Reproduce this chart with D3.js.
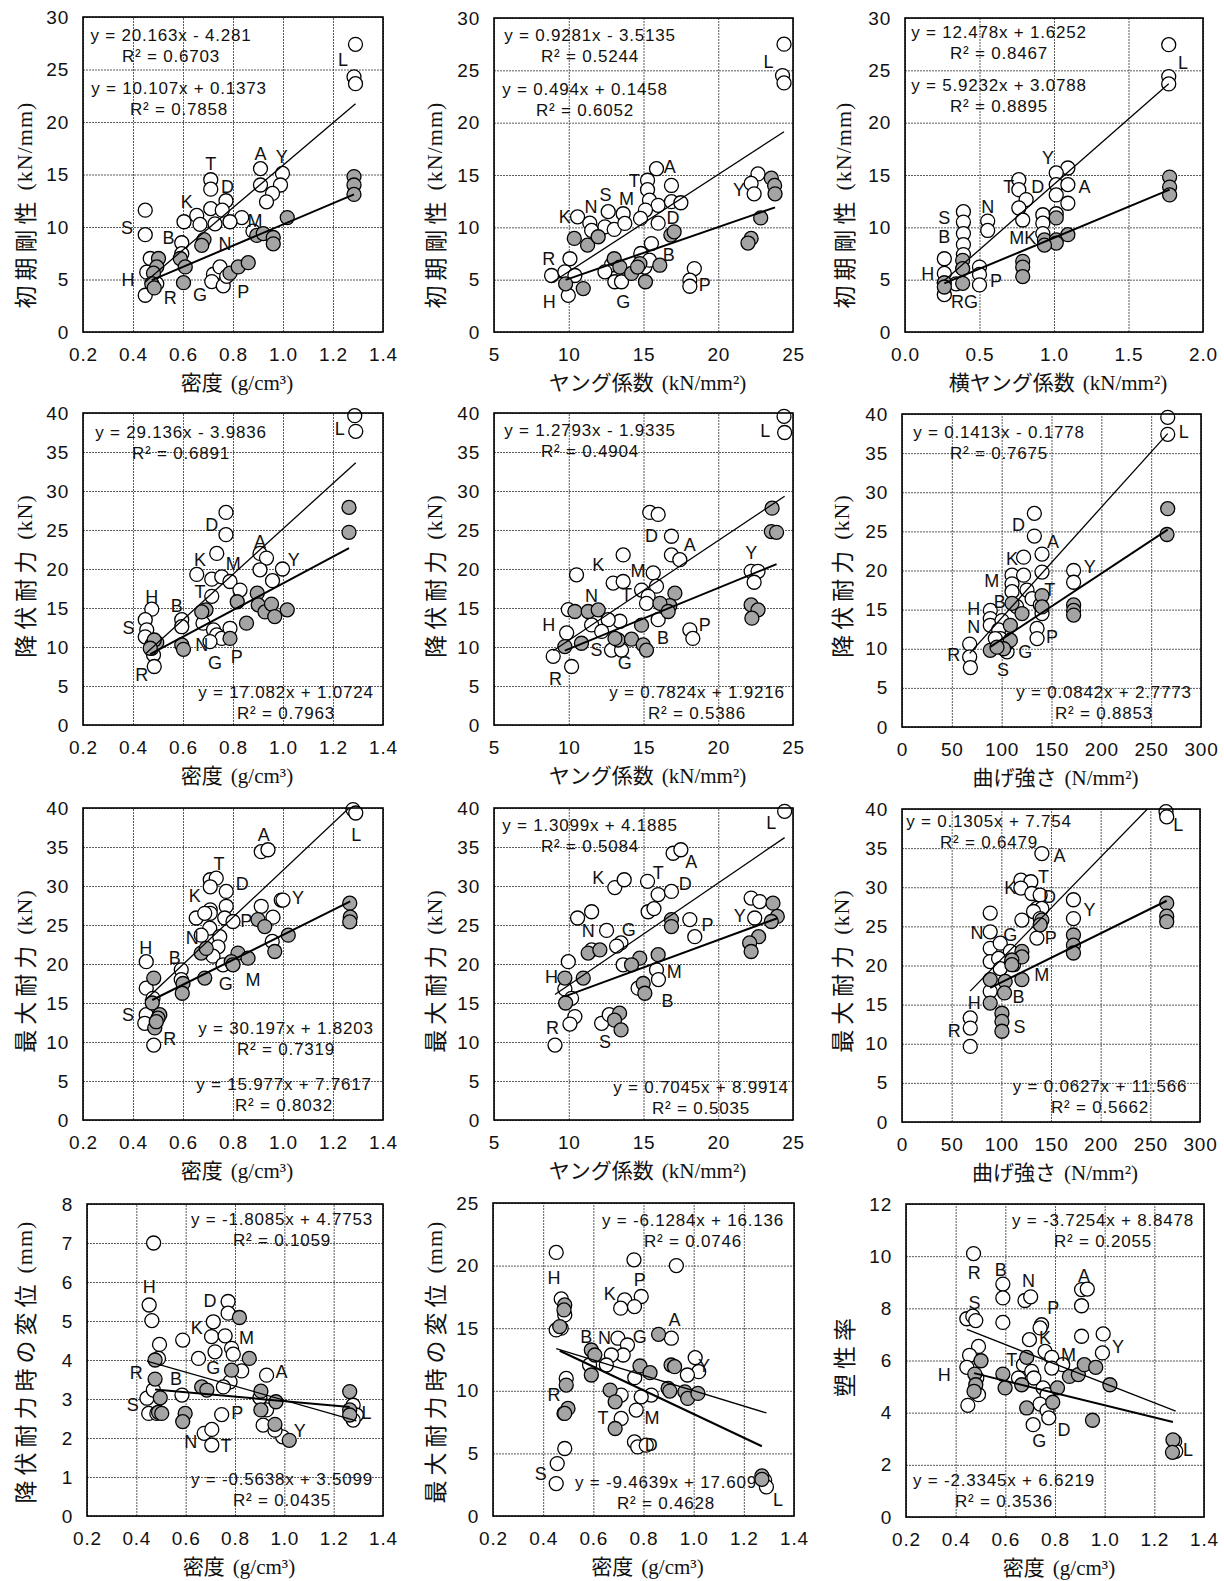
<!DOCTYPE html>
<html><head><meta charset="utf-8">
<script src="https://cdn.jsdelivr.net/npm/d3@7"></script>
<style>body{margin:0;background:#fff}</style>
</head><body><svg id="c" width="1224" height="1581" xmlns="http://www.w3.org/2000/svg"></svg>
<script>
// ---------------- tick values ----------------
const densityTicks = [0.2,0.4,0.6,0.8,1.0,1.2,1.4];
const youngTicks = [5,10,15,20,25];
const transTicks = [0.0,0.5,1.0,1.5,2.0];
const bendTicks = [0,50,100,150,200,250,300];
const y30Ticks = [0,5,10,15,20,25,30];
const y40Ticks = [0,5,10,15,20,25,30,35,40];
const y8Ticks = [0,1,2,3,4,5,6,7,8];
const y25Ticks = [0,5,10,15,20,25];
const y12Ticks = [0,2,4,6,8,10,12];

// ---------------- axis titles ----------------
const xTitleDensity = ["密度","(g/cm³)"];
const xTitleYoung = ["ヤング係数","(kN/mm²)"];
const xTitleTrans = ["横ヤング係数","(kN/mm²)"];
const xTitleBend = ["曲げ強さ","(N/mm²)"];
const yTitleStiff = ["初期剛性","(kN/mm)"];
const yTitleYield = ["降伏耐力","(kN)"];
const yTitleMax = ["最大耐力","(kN)"];
const yTitleYieldDisp = ["降伏耐力時の変位","(mm)"];
const yTitleMaxDisp = ["最大耐力時の変位","(mm)"];
const yTitleDuct = ["塑性率",""];

// ---------------- panel 1 ----------------
const p1White = [[1.29,27.4],[1.284,24.3],[1.29,23.65],[0.91,15.56],[0.91,14.0],[0.998,15.1],[0.99,14.0],[0.958,13.2],[0.934,12.4],[0.711,14.5],[0.711,13.6],[0.772,12.5],[0.711,11.75],[0.757,11.6],[0.655,11.1],[0.835,10.9],[0.788,10.5],[0.728,10.3],[0.604,10.5],[0.668,10.25],[0.449,11.6],[0.449,9.27],[0.595,8.5],[0.595,7.46],[0.469,7.0],[0.455,5.7],[0.449,3.5],[0.495,4.6],[0.722,5.5],[0.748,6.2],[0.715,4.8],[0.761,4.4],[0.775,5.3],[0.88,9.6]];
const p1Gray = [[1.284,14.8],[1.284,14.0],[1.284,13.1],[1.017,10.9],[0.895,9.2],[0.921,9.37],[0.961,9.0],[0.961,8.4],[0.684,8.8],[0.675,8.25],[0.589,7.0],[0.609,6.2],[0.602,4.7],[0.502,7.0],[0.495,6.2],[0.482,5.6],[0.475,4.6],[0.485,4.2],[0.788,5.6],[0.821,6.2],[0.861,6.6]];
const p1Labels = [["L",1.24,25.9],["A",0.91,17.0],["Y",0.995,16.7],["T",0.711,16.0],["D",0.778,13.8],["K",0.615,12.4],["S",0.376,9.9],["M",0.888,10.6],["B",0.542,9.0],["N",0.768,8.4],["H",0.38,5.0],["R",0.549,3.2],["G",0.668,3.5],["P",0.841,3.8]];
const p1Eq = [["y = 20.163x - 4.281","R² = 0.6703"],["y = 10.107x + 0.1373","R² = 0.7858"]];
const p1Fit = [[20.163,-4.281],[10.107,0.1373]];

// ---------------- panel 2 ----------------
const p2White = [[24.4,27.5],[24.3,24.5],[24.4,23.8],[22.66,15.1],[22.2,14.2],[22.4,13.2],[15.87,15.6],[15.27,14.5],[15.27,13.6],[16.87,14.0],[15.4,12.6],[15.98,12.1],[16.87,12.45],[17.5,12.35],[15.13,11.65],[14.8,10.85],[15.98,10.4],[12.64,11.5],[13.64,11.3],[10.59,11.0],[11.41,10.4],[11.53,9.7],[12.42,10.05],[13.04,9.8],[13.75,10.37],[15.53,8.45],[14.82,7.5],[10.08,7.0],[8.85,5.4],[9.74,5.75],[10.41,5.4],[9.97,3.5],[12.86,6.4],[12.42,5.75],[13.08,4.8],[13.53,4.8],[15.09,6.2],[18.4,6.06],[18.1,4.95],[18.1,4.37],[15.4,6.86]];
const p2Gray = [[23.55,14.7],[23.77,14.0],[23.8,13.2],[22.84,10.9],[22.2,8.94],[21.99,8.5],[16.83,9.26],[17.05,9.57],[10.37,8.94],[11.26,8.3],[11.97,9.1],[13.04,7.0],[13.42,6.2],[14.2,5.6],[14.76,6.54],[15.13,4.8],[16.09,6.38],[9.79,4.6],[10.97,4.15],[14.6,6.2]];
const p2Labels = [["L",23.37,25.8],["A",16.76,15.8],["T",14.38,14.4],["S",12.46,13.1],["M",13.86,12.7],["N",11.48,11.9],["K",9.74,11.0],["D",16.98,10.85],["Y",21.39,13.56],["B",16.69,7.34],["R",8.67,7.0],["H",8.7,2.87],["G",13.64,2.87],["P",19.1,4.47]];
const p2Eq = [["y = 0.9281x - 3.5135","R² = 0.5244"],["y = 0.494x + 0.1458","R² = 0.6052"]];
const p2Fit = [[0.9281,-3.5135],[0.494,0.1458]];

// ---------------- panel 3 ----------------
const p3White = [[1.77,27.45],[1.77,24.4],[1.77,23.7],[1.093,15.67],[1.015,15.2],[1.015,14.08],[1.093,14.08],[1.015,13.1],[1.093,12.3],[0.764,14.55],[0.764,13.6],[0.813,12.65],[0.764,11.85],[0.79,10.7],[0.925,11.2],[0.925,10.4],[0.925,9.4],[1.015,11.3],[0.555,10.6],[0.555,9.7],[0.392,11.5],[0.392,10.5],[0.392,9.4],[0.392,8.35],[0.392,7.4],[0.264,7.0],[0.264,5.6],[0.264,4.7],[0.264,3.57],[0.5,6.2],[0.5,5.5],[0.5,4.5],[0.343,4.6]];
const p3Gray = [[1.776,14.8],[1.776,13.85],[1.776,13.1],[1.015,10.9],[0.936,8.8],[1.015,8.8],[1.093,9.3],[1.015,8.5],[0.936,8.3],[0.79,6.75],[0.79,6.2],[0.79,5.3],[0.387,6.85],[0.387,6.05],[0.387,4.65],[0.264,4.7],[0.264,4.3]];
const p3Labels = [["L",1.866,25.7],["Y",0.959,16.6],["T",0.697,13.85],["D",0.891,13.85],["A",1.205,13.85],["N",0.555,11.9],["S",0.264,10.9],["B",0.264,9.08],["MK",0.79,9.0],["H",0.152,5.57],["P",0.611,4.84],["RG",0.4,2.9]];
const p3Eq = [["y = 12.478x + 1.6252","R² = 0.8467"],["y = 5.9232x + 3.0788","R² = 0.8895"]];
const p3Fit = [[12.478,1.6252],[5.9232,3.0788]];

// ---------------- panel 4 ----------------
const p4White = [[1.287,39.66],[1.291,37.65],[0.772,27.25],[0.772,24.4],[0.735,22.0],[0.655,19.3],[0.715,18.7],[0.755,19.0],[0.788,18.4],[0.828,17.3],[0.715,16.5],[0.908,22.0],[0.934,21.4],[0.908,19.9],[0.958,18.5],[0.998,20.0],[0.475,14.85],[0.449,13.5],[0.455,12.2],[0.449,11.3],[0.595,13.5],[0.595,12.6],[0.68,13.05],[0.722,12.2],[0.735,11.55],[0.755,11.1],[0.788,12.4],[0.482,9.0],[0.485,7.5],[0.475,9.84],[0.708,10.7]];
const p4Gray = [[1.264,27.9],[1.264,24.7],[0.897,16.9],[0.901,15.4],[0.928,14.5],[0.954,15.5],[0.967,13.9],[1.017,14.76],[0.854,13.05],[0.817,15.8],[0.692,14.76],[0.675,14.5],[0.595,10.27],[0.602,9.7],[0.788,11.1],[0.475,10.27],[0.495,10.57],[0.485,10.9],[0.469,9.84]];
const p4Labels = [["L",1.227,37.9],["D",0.715,25.7],["A",0.908,23.5],["K",0.668,21.2],["M",0.801,20.7],["Y",1.043,21.2],["T",0.668,17.1],["H",0.475,16.4],["B",0.575,15.3],["S",0.382,12.5],["N",0.675,10.27],["R",0.435,6.4],["G",0.728,7.9],["P",0.815,8.77]];
const p4Eq = [["y = 29.136x - 3.9836","R² = 0.6891"],["y = 17.082x + 1.0724","R² = 0.7963"]];
const p4Fit = [[29.136,-3.9836],[17.082,1.0724]];

// ---------------- panel 5 ----------------
const p5White = [[24.4,39.57],[24.44,37.5],[15.42,27.25],[15.98,27.0],[16.87,24.2],[16.87,21.8],[17.43,21.2],[13.64,21.8],[10.52,19.25],[12.97,18.2],[13.64,18.4],[15.65,19.5],[15.87,17.8],[14.87,17.3],[15.31,16.5],[15.2,15.6],[15.98,13.5],[13.42,13.3],[12.64,13.5],[11.53,12.83],[12.2,12.0],[9.97,14.8],[9.86,11.8],[8.96,8.8],[10.19,7.5],[12.86,9.6],[13.53,9.6],[22.2,19.7],[22.66,19.7],[22.4,18.3],[18.1,12.2],[18.3,11.1]];
const p5Gray = [[23.6,27.8],[23.55,24.8],[23.9,24.7],[22.2,15.4],[22.66,14.76],[22.25,13.7],[17.1,16.9],[16.76,15.3],[16.1,15.6],[16.65,14.55],[10.41,14.55],[11.3,14.55],[11.97,14.76],[9.74,10.05],[10.85,10.48],[13.3,10.9],[14.2,11.0],[14.87,12.8],[14.98,10.27],[15.2,9.6],[13.09,11.1]];
const p5Labels = [["L",23.15,37.65],["D",15.53,24.2],["A",18.1,23.1],["Y",22.2,22.0],["K",11.97,20.5],["M",14.64,19.7],["N",11.53,16.5],["T",13.86,16.7],["H",8.67,12.8],["P",19.1,12.8],["B",16.3,11.1],["S",11.86,9.6],["G",13.75,7.9],["R",9.12,5.86]];
const p5Eq = [["y = 1.2793x - 1.9335","R² = 0.4904"],["y = 0.7824x + 1.9216","R² = 0.5386"]];
const p5Fit = [[1.2793,-1.9335],[0.7824,1.9216]];

// ---------------- panel 6 ----------------
const p6White = [[266.6,39.57],[266.6,37.4],[132.8,27.3],[132.8,24.4],[122,21.7],[140.5,22.1],[140.5,19.8],[172.2,20.0],[172.2,18.5],[110.4,19.4],[122,19.4],[110.4,18.3],[110.4,17.3],[125.4,17.5],[130.5,16.4],[138.8,15.6],[140.5,14.5],[88.6,14.9],[88.6,13.86],[88.6,13.0],[100.3,13.6],[97,12.4],[98.7,11.3],[135.5,12.6],[135.5,11.3],[67.9,10.6],[67.9,8.96],[68.6,7.6],[105.4,9.6],[93.6,11.3],[115,15.4]];
const p6Gray = [[266.6,27.9],[265.9,24.6],[172.2,15.6],[172.2,14.9],[172.2,14.3],[140.5,16.8],[140.5,15.35],[120.4,14.5],[110.4,15.8],[108.7,13.0],[88.6,9.8],[103.7,10.45],[108.7,11.1],[102,10.0],[95.3,10.2]];
const p6Labels = [["L",282.6,37.7],["D",117,25.8],["A",151.5,23.7],["K",110.4,21.5],["Y",188.3,20.5],["M",90,18.6],["T",148.2,17.5],["B",98,16.0],["H",71.9,15.1],["N",71.9,12.8],["P",150.5,11.5],["R",51.8,9.17],["G",123.7,9.6],["S",101.3,7.25]];
const p6Eq = [["y = 0.1413x - 0.1778","R² = 0.7675"],["y = 0.0842x + 2.7773","R² = 0.8853"]];
const p6Fit = [[0.1413,-0.1778],[0.0842,2.7773]];

// ---------------- panel 7 ----------------
const p7White = [[1.28,39.8],[1.291,39.36],[0.913,34.4],[0.94,34.65],[0.709,30.8],[0.733,31.0],[0.709,29.9],[0.773,29.3],[0.773,27.4],[0.709,26.95],[0.709,26.5],[0.653,25.9],[0.687,26.5],[0.767,25.9],[0.8,25.45],[0.707,24.6],[0.747,23.5],[0.74,22.2],[0.72,21.0],[0.76,19.9],[0.913,27.4],[0.96,26.0],[0.993,28.2],[1.0,28.2],[0.957,22.9],[0.453,20.3],[0.453,16.9],[0.593,19.25],[0.593,18.0],[0.453,13.5],[0.447,12.4],[0.483,9.6],[0.48,15.6],[0.673,23.7]];
const p7Gray = [[1.267,27.8],[1.269,26.0],[1.267,25.4],[0.9,25.7],[0.927,24.8],[1.021,23.7],[0.967,21.6],[0.82,21.4],[0.793,20.3],[0.86,20.75],[0.8,19.9],[0.673,21.4],[0.693,22.0],[0.687,18.2],[0.6,17.5],[0.597,16.25],[0.483,18.2],[0.477,15.0],[0.507,13.5],[0.5,13.05],[0.487,11.8],[0.493,12.6]];
const p7Labels = [["L",1.293,36.6],["A",0.923,36.6],["T",0.744,32.8],["D",0.837,30.25],["K",0.647,28.7],["Y",1.06,28.4],["P",0.853,25.5],["N",0.637,23.3],["H",0.451,22.0],["B",0.567,20.8],["G",0.771,17.5],["M",0.88,18.0],["S",0.38,13.5],["R",0.547,10.4]];
const p7Eq = [["y = 30.197x + 1.8203","R² = 0.7319"],["y = 15.977x + 7.7617","R² = 0.8032"]];
const p7Fit = [[30.197,1.8203],[15.977,7.7617]];

// ---------------- panel 8 ----------------
const p8White = [[24.44,39.57],[16.98,34.2],[17.5,34.65],[13.08,29.8],[13.71,30.8],[15.27,30.6],[15.98,28.9],[16.87,29.3],[15.31,26.7],[15.7,27.1],[18.1,25.7],[18.43,23.5],[11.53,26.7],[10.59,25.9],[12.53,24.3],[13.49,22.7],[13.2,22.3],[11.53,21.8],[13.64,19.9],[9.97,20.3],[9.74,16.8],[10.19,15.6],[10.41,13.26],[10.08,12.3],[12.2,12.4],[12.71,13.5],[9.08,9.6],[15.87,19.25],[16.0,18.0],[14.64,16.9],[22.2,28.45],[22.77,28.0],[22.44,25.9]];
const p8Gray = [[23.66,27.8],[23.95,26.1],[23.55,25.45],[22.7,23.5],[22.1,22.7],[22.2,21.6],[16.87,25.7],[16.87,24.8],[15.98,21.2],[14.75,20.75],[14.2,19.9],[14.98,17.5],[15.09,16.25],[11.3,21.4],[12.08,21.8],[9.74,18.2],[10.97,18.2],[9.79,15.0],[13.4,13.7],[13.06,12.8],[13.5,11.55]];
const p8Labels = [["L",23.55,38.1],["A",18.2,33.1],["T",15.98,31.7],["K",11.97,31.0],["D",17.8,30.2],["Y",21.44,26.1],["P",19.28,25.0],["N",11.3,24.2],["G",14.02,24.4],["M",17.05,19.0],["H",8.85,18.3],["B",16.6,15.3],["R",8.92,11.8],["S",12.42,10.05]];
const p8Eq = [["y = 1.3099x + 4.1885","R² = 0.5084"],["y = 0.7045x + 8.9914","R² = 0.5035"]];
const p8Fit = [[1.3099,4.1885],[0.7045,8.9914]];

// ---------------- panel 9 ----------------
const p9White = [[265.8,39.66],[266.5,39.0],[140.8,34.3],[119.7,30.9],[129.7,30.7],[119.7,29.9],[130.7,29.2],[139.1,29.0],[135.8,27.3],[140.8,27.3],[132.4,26.9],[120.7,25.8],[139.1,26.0],[135.8,23.5],[172.6,28.4],[172.6,26.0],[88.8,26.7],[88.8,24.3],[88.8,22.2],[88.8,20.5],[98.9,22.85],[109,21.8],[97.2,20.9],[112.3,20.1],[88.8,16.7],[68.7,13.3],[68.7,12.0],[68.7,9.66],[98.9,19.6]];
const p9Gray = [[266.5,27.96],[266.5,26.3],[266.5,25.6],[172.6,23.9],[172.6,22.6],[172.6,21.6],[140.8,25.8],[139.1,25.2],[120.7,21.8],[120.7,21.1],[110.6,20.7],[110.6,20.1],[120.7,18.2],[88.8,18.2],[103.9,17.96],[103.2,16.5],[88.8,15.2],[100.6,13.9],[100.6,12.85],[100.6,11.6]];
const p9Labels = [["L",278.2,37.96],["A",158.6,34.0],["T",142.5,31.3],["K",109,29.9],["D",148.5,28.8],["Y",188.7,27.1],["N",75.4,24.1],["G",109,23.9],["P",149.8,23.5],["M",140.8,18.8],["B",117.3,16.0],["H",72.7,15.2],["S",118.3,12.2],["R",52.6,11.66]];
const p9Eq = [["y = 0.1305x + 7.754","R² = 0.6479"],["y = 0.0627x + 11.566","R² = 0.5662"]];
const p9Fit = [[0.1305,7.754],[0.0627,11.566]];

// ---------------- panel 10 ----------------
const p10White = [[0.47,7.0],[0.452,5.41],[0.463,5.01],[0.494,4.4],[0.49,4.04],[0.588,4.51],[0.652,4.04],[0.712,4.98],[0.772,5.5],[0.772,5.2],[0.705,4.6],[0.76,4.62],[0.719,4.21],[0.786,4.3],[0.793,4.15],[0.827,3.72],[0.78,3.44],[0.928,3.61],[0.753,3.31],[0.901,3.03],[0.928,2.72],[0.914,2.33],[0.993,2.03],[0.962,2.2],[0.746,2.6],[0.675,2.12],[0.706,2.22],[0.706,1.82],[0.585,3.1],[0.443,3.02],[0.45,2.63],[0.483,2.63],[0.469,3.23],[1.279,2.84],[1.292,2.59],[1.279,2.46]];
const p10Gray = [[0.818,5.09],[0.858,4.04],[0.786,3.74],[0.905,3.2],[0.966,2.93],[0.905,2.72],[0.962,2.35],[1.02,1.94],[0.665,3.31],[0.686,3.23],[0.476,4.0],[0.476,3.51],[0.497,3.03],[0.49,2.66],[0.503,2.63],[0.598,2.63],[0.588,2.42],[1.265,3.19],[1.265,2.72],[1.265,2.59]];
const p10Labels = [["H",0.452,5.87],["D",0.699,5.52],["K",0.645,4.81],["M",0.847,4.56],["G",0.712,3.79],["A",0.989,3.68],["R",0.4,3.67],["B",0.561,3.51],["S",0.386,2.84],["P",0.809,2.63],["L",1.333,2.63],["Y",1.063,2.18],["N",0.621,1.9],["T",0.764,1.8]];
const p10Eq = [["y = -1.8085x + 4.7753","R² = 0.1059"],["y = -0.5638x + 3.5099","R² = 0.0435"]];
const p10Fit = [[-1.8085,4.7753],[-0.5638,3.5099]];

// ---------------- panel 11 ----------------
const p11White = [[0.452,21.05],[0.762,20.46],[0.931,20.0],[0.791,17.53],[0.725,17.26],[0.709,16.6],[0.764,16.73],[0.472,17.34],[0.486,16.06],[0.472,15.0],[0.452,14.86],[0.911,14.2],[0.698,14.2],[0.736,13.66],[0.719,12.86],[0.672,12.86],[0.652,12.06],[0.585,12.06],[1.006,12.65],[1.02,11.53],[0.975,11.26],[0.765,11.05],[0.831,9.66],[0.791,9.52],[0.711,9.66],[0.771,8.46],[0.711,7.79],[0.764,5.92],[0.777,5.52],[0.811,5.66],[0.492,10.99],[0.486,5.39],[0.456,4.19],[0.452,2.59],[1.283,2.85],[1.29,2.32],[0.483,8.19]];
const p11Gray = [[0.486,16.86],[0.483,16.46],[0.466,15.13],[0.86,14.51],[0.492,10.46],[0.499,8.59],[0.486,8.19],[0.592,13.26],[0.606,12.86],[0.592,11.26],[0.786,11.98],[0.826,11.45],[0.91,12.06],[0.924,11.93],[0.898,10.19],[0.905,9.98],[0.965,9.92],[0.976,9.39],[1.017,9.79],[0.667,10.06],[0.687,9.12],[0.687,6.99],[1.272,3.2],[1.272,2.93]];
const p11Labels = [["H",0.443,19.0],["P",0.785,18.86],["K",0.665,17.7],["A",0.924,15.66],["B",0.572,14.27],["N",0.645,14.2],["G",0.785,14.27],["Y",1.041,12.0],["R",0.443,9.66],["T",0.639,7.84],["M",0.834,7.84],["D",0.831,5.66],["S",0.39,3.34],["L",1.336,1.25]];
const p11Eq = [["y = -6.1284x + 16.136","R² = 0.0746"],["y = -9.4639x + 17.609","R² = 0.4628"]];
const p11Fit = [[-6.1284,16.136],[-9.4639,17.609]];

// ---------------- panel 12 ----------------
const p12White = [[0.472,10.1],[0.59,8.93],[0.59,8.4],[0.59,7.46],[0.679,8.3],[0.702,8.44],[0.907,8.72],[0.93,8.74],[0.907,8.1],[0.445,7.6],[0.469,7.7],[0.481,7.53],[0.746,7.37],[0.74,7.25],[0.697,6.8],[0.76,6.35],[0.787,6.12],[0.907,6.93],[0.994,7.02],[0.991,6.29],[0.492,6.54],[0.456,6.2],[0.445,5.74],[0.485,5.33],[0.492,4.69],[0.449,4.28],[0.673,5.84],[0.706,5.58],[0.715,5.33],[0.752,4.95],[0.768,4.69],[0.74,4.33],[0.768,4.08],[0.775,3.8],[0.712,3.54],[0.831,5.84],[0.787,5.71],[0.653,5.33],[1.282,2.9],[1.286,2.52]];
const p12Gray = [[0.502,5.99],[0.477,5.48],[0.481,5.07],[0.474,4.82],[0.59,5.48],[0.599,4.95],[0.686,6.12],[0.666,5.07],[0.686,4.18],[0.791,4.4],[0.81,4.95],[0.858,5.39],[0.894,5.46],[0.918,5.84],[0.964,5.74],[1.021,5.07],[0.951,3.71],[1.275,2.96],[1.273,2.48]];
const p12Labels = [["R",0.475,9.35],["B",0.582,9.48],["N",0.693,9.06],["A",0.917,9.23],["S",0.476,8.2],["P",0.793,8.01],["K",0.76,6.86],["Y",1.054,6.5],["T",0.626,6.03],["M",0.854,6.22],["H",0.354,5.46],["D",0.836,3.35],["G",0.737,2.9],["L",1.336,2.58]];
const p12Eq = [["y = -3.7254x + 8.8478","R² = 0.2055"],["y = -2.3345x + 6.6219","R² = 0.3536"]];
const p12Fit = [[-3.7254,8.8478],[-2.3345,6.6219]];

// ---------------- layout (positions & styles) ----------------
const f1 = d3.format(".1f"), f0 = d3.format("d");
const panels = [
 {l:83,r:383,t:17,b:332, xd:[0.2,1.4],yd:[0,30],xt:densityTicks,yt:y30Ticks,xf:f1,xT:xTitleDensity,yT:yTitleStiff,ytx:24,yty:205,
  W:p1White,G:p1Gray,L:p1Labels,E:p1Eq,F:p1Fit,ep:[[88,24],[96,77]]},
 {l:494,r:793,t:18,b:332, xd:[5,25],yd:[0,30],xt:youngTicks,yt:y30Ticks,xf:f0,xT:xTitleYoung,yT:yTitleStiff,ytx:434,yty:205,
  W:p2White,G:p2Gray,L:p2Labels,E:p2Eq,F:p2Fit,ep:[[96,23],[91,77]]},
 {l:905,r:1203,t:18,b:332, xd:[0,2],yd:[0,30],xt:transTicks,yt:y30Ticks,xf:f1,xT:xTitleTrans,yT:yTitleStiff,ytx:843,yty:205,
  W:p3White,G:p3Gray,L:p3Labels,E:p3Eq,F:p3Fit,ep:[[94,20],[94,73]]},
 {l:83,r:383,t:413,b:725, xd:[0.2,1.4],yd:[0,40],xt:densityTicks,yt:y40Ticks,xf:f1,xT:xTitleDensity,yT:yTitleYield,ytx:24,yty:576,
  W:p4White,G:p4Gray,L:p4Labels,E:p4Eq,F:p4Fit,ep:[[98,25],[203,285]]},
 {l:494,r:793,t:413,b:725, xd:[5,25],yd:[0,40],xt:youngTicks,yt:y40Ticks,xf:f0,xT:xTitleYoung,yT:yTitleYield,ytx:434,yty:576,
  W:p5White,G:p5Gray,L:p5Labels,E:p5Eq,F:p5Fit,ep:[[96,23],[203,285]]},
 {l:902,r:1201,t:414,b:727, xd:[0,300],yd:[0,40],xt:bendTicks,yt:y40Ticks,xf:f0,xT:xTitleBend,yT:yTitleYield,ytx:841,yty:576,
  W:p6White,G:p6Gray,L:p6Labels,E:p6Eq,F:p6Fit,ep:[[97,24],[202,284]]},
 {l:83,r:383,t:808,b:1120, xd:[0.2,1.4],yd:[0,40],xt:densityTicks,yt:y40Ticks,xf:f1,xT:xTitleDensity,yT:yTitleMax,ytx:24,yty:971,
  W:p7White,G:p7Gray,L:p7Labels,E:p7Eq,F:p7Fit,ep:[[203,226],[201,282]]},
 {l:494,r:793,t:808,b:1120, xd:[5,25],yd:[0,40],xt:youngTicks,yt:y40Ticks,xf:f0,xT:xTitleYoung,yT:yTitleMax,ytx:434,yty:971,
  W:p8White,G:p8Gray,L:p8Labels,E:p8Eq,F:p8Fit,ep:[[96,23],[207,285]]},
 {l:902,r:1200,t:809,b:1122, xd:[0,300],yd:[0,40],xt:bendTicks,yt:y40Ticks,xf:f0,xT:xTitleBend,yT:yTitleMax,ytx:841,yty:971,
  W:p9White,G:p9Gray,L:p9Labels,E:p9Eq,F:p9Fit,ep:[[87,18],[198,283]]},
 {l:87,r:383,t:1204,b:1516, xd:[0.2,1.4],yd:[0,8],xt:densityTicks,yt:y8Ticks,xf:f1,xT:xTitleDensity,yT:yTitleYieldDisp,ytx:24,yty:1362,
  W:p10White,G:p10Gray,L:p10Labels,E:p10Eq,F:p10Fit,ep:[[195,21],[195,281]]},
 {l:493,r:794,t:1203,b:1516, xd:[0.2,1.4],yd:[0,25],xt:densityTicks,yt:y25Ticks,xf:f1,xT:xTitleDensity,yT:yTitleMaxDisp,ytx:434,yty:1362,
  W:p11White,G:p11Gray,L:p11Labels,E:p11Eq,F:p11Fit,ep:[[200,23],[173,285]]},
 {l:906,r:1204,t:1204,b:1517, xd:[0.2,1.4],yd:[0,12],xt:densityTicks,yt:y12Ticks,xf:f1,xT:xTitleDensity,yT:yTitleDuct,ytx:843,yty:1355,
  W:p12White,G:p12Gray,L:p12Labels,E:p12Eq,F:p12Fit,ep:[[197,22],[98,282]]}
];

const SANS = "'Liberation Sans', Arial, Helvetica, sans-serif";
const CJK = "'Noto Sans CJK JP', sans-serif";
const SERIF = "'Liberation Serif', 'DejaVu Serif', serif";
const GRAYFILL = "#a4a4a4";

const svg = d3.select("#c");
const defs = svg.append("defs");

panels.forEach((p, i) => {
  const x = d3.scaleLinear().domain(p.xd).range([p.l, p.r]);
  const y = d3.scaleLinear().domain(p.yd).range([p.b, p.t]);
  const Wd = p.r - p.l, Ht = p.b - p.t;
  const g = svg.append("g");

  // grid
  g.append("g").attr("transform", `translate(0,${p.b})`)
    .call(d3.axisBottom(x).tickValues(p.xt).tickSize(-Ht).tickFormat(""))
    .call(a => a.select(".domain").remove())
    .selectAll("line").attr("stroke", "#5a5a5a").attr("stroke-width", 1).attr("stroke-dasharray", "2,1");
  g.append("g").attr("transform", `translate(${p.l},0)`)
    .call(d3.axisLeft(y).tickValues(p.yt).tickSize(-Wd).tickFormat(""))
    .call(a => a.select(".domain").remove())
    .selectAll("line").attr("stroke", "#5a5a5a").attr("stroke-width", 1).attr("stroke-dasharray", "2,1");

  // tick labels
  const ax = g.append("g").attr("transform", `translate(0,${p.b})`)
    .call(d3.axisBottom(x).tickValues(p.xt).tickSize(0).tickPadding(16).tickFormat(p.xf));
  ax.select(".domain").remove();
  ax.attr("font-family", SANS).attr("font-size", 19);
  ax.selectAll("text").attr("fill", "#111").attr("letter-spacing", "0.8px");
  const ay = g.append("g").attr("transform", `translate(${p.l},0)`)
    .call(d3.axisLeft(y).tickValues(p.yt).tickSize(0).tickPadding(14).tickFormat(f0));
  ay.select(".domain").remove();
  ay.attr("font-family", SANS).attr("font-size", 19);
  ay.selectAll("text").attr("fill", "#111").attr("letter-spacing", "0.8px");

  // x title
  const xt = g.append("text").attr("x", (p.l + p.r) / 2 + 4).attr("y", p.b + 58)
    .attr("text-anchor", "middle").attr("fill", "#111");
  xt.append("tspan").attr("font-family", CJK).attr("font-size", 21).text(p.xT[0]);
  xt.append("tspan").attr("font-family", SERIF).attr("font-size", 21).attr("dx", 8).text(p.xT[1]);

  // y title
  const yt = g.append("text").attr("transform", `translate(${p.ytx},${p.yty}) rotate(-90)`)
    .attr("text-anchor", "middle").attr("dominant-baseline", "central").attr("fill", "#111");
  yt.append("tspan").attr("font-family", CJK).attr("font-size", 23).attr("letter-spacing", "5px").text(p.yT[0]);
  if (p.yT[1]) yt.append("tspan").attr("font-family", SERIF).attr("font-size", 22).attr("dx", 6).attr("letter-spacing", "1px").text(p.yT[1]);

  // clip for trend lines
  const cid = "clip" + i;
  defs.append("clipPath").attr("id", cid).append("rect")
    .attr("x", p.l).attr("y", p.t).attr("width", Wd).attr("height", Ht);

  // points: white series then gray series
  g.append("g").selectAll("circle").data(p.W).join("circle")
    .attr("cx", d => x(d[0])).attr("cy", d => y(d[1])).attr("r", 7)
    .attr("fill", "#fff").attr("stroke", "#000").attr("stroke-width", 1.3);
  g.append("g").selectAll("circle").data(p.G).join("circle")
    .attr("cx", d => x(d[0])).attr("cy", d => y(d[1])).attr("r", 7)
    .attr("fill", GRAYFILL).attr("stroke", "#000").attr("stroke-width", 1.3);

  // trend lines over each series' x range
  const series = [p.W, p.G];
  const lg = g.append("g").attr("clip-path", `url(#${cid})`);
  series.forEach((s, k) => {
    const [m, c] = p.F[k];
    const ext = d3.extent(s, d => d[0]);
    const pts = ext.map(v => [v, m * v + c]);
    lg.append("path").attr("d", d3.line().x(d => x(d[0])).y(d => y(d[1]))(pts))
      .attr("stroke", "#000").attr("stroke-width", k === 0 ? 1.3 : 2).attr("fill", "none");
  });

  // letter labels
  g.append("g").selectAll("text").data(p.L).join("text")
    .attr("x", d => x(d[1])).attr("y", d => y(d[2]))
    .attr("text-anchor", "middle").attr("dominant-baseline", "central")
    .attr("font-family", SANS).attr("font-size", 18).attr("fill", "#111").text(d => d[0]);

  // equations
  p.E.forEach((eq, k) => {
    const [dx, dy] = p.ep[k];
    eq.forEach((line, j) => {
      g.append("text").attr("x", p.l + dx).attr("y", p.t + dy + j * 21)
        .attr("text-anchor", "middle").attr("font-family", SANS).attr("font-size", 17)
        .attr("letter-spacing", "0.8px").attr("fill", "#111").text(line);
    });
  });

  // border
  g.append("rect").attr("x", p.l).attr("y", p.t).attr("width", Wd).attr("height", Ht)
    .attr("fill", "none").attr("stroke", "#000").attr("stroke-width", 1.6);
});
</script>
</body></html>
